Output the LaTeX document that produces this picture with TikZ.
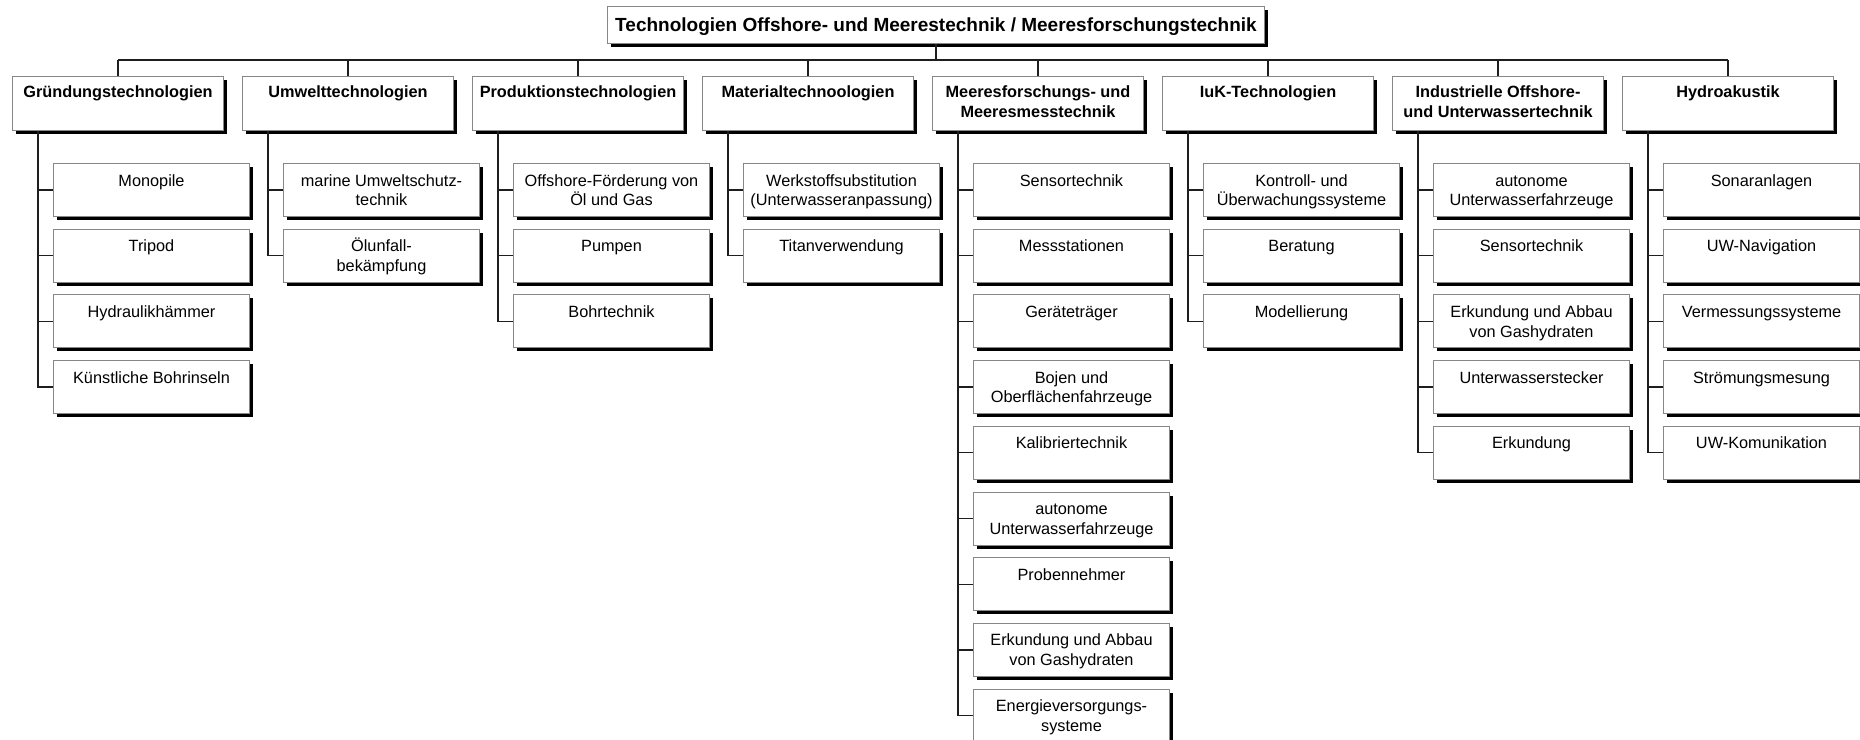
\documentclass[tikz,border=0pt]{standalone}
\usepackage{fontspec}
\setmainfont{Liberation Sans}
\usetikzlibrary{shadows}

\definecolor{boxgray}{RGB}{135,135,135}
\definecolor{linkgray}{RGB}{30,30,30}

% fixed-size cell: width, height, first baseline below top, text
\newcommand{\cell}[4]{\parbox[c][#2][t]{#1}{\centering\rule{0pt}{#3}#4\par}}
\newcommand{\headcell}[1]{\cell{211pt}{54pt}{20.7pt}{#1}}
\newcommand{\itemcell}[1]{\cell{196pt}{53pt}{22.5pt}{#1}}
% trunk from a category down to its items
\newcommand{\kids}[2]{\foreach \k in {#2}{\draw[link] ([xshift=26pt]#1.south west) |- (#1-\k.west);}}

\tikzset{
  box/.style={draw=boxgray, line width=1pt, fill=white, inner sep=0pt, anchor=north west,
    drop shadow={shadow xshift=3.5pt, shadow yshift=-3.5pt, opacity=1, fill=black}},
  ttl/.style={box, font={\bfseries\fontsize{19}{22}\selectfont}},
  head/.style={box, font={\bfseries\fontsize{16.3}{20.3}\selectfont}},
  leaf/.style={box, font={\fontsize{16.3}{19.8}\selectfont}},
  link/.style={draw=linkgray, line width=1.3pt},
}

\begin{document}
\begin{tikzpicture}[x=1pt,y=-1pt]
\useasboundingbox (0,0) rectangle (1860,739);
\fill[white] (0,0) rectangle (1860,739);
\clip (0,0) rectangle (1860,739);

% root
\node[ttl] (title) at (607,6) {\cell{657pt}{37pt}{24.7pt}{Technologien Offshore- und Meerestechnik / Meeresforschungstechnik}};
\coordinate (bus) at (936,60);

% categories
\node[head] (c0) at (12,76)   {\headcell{Gründungstechnologien}};
\node[head] (c1) at (242,76)  {\headcell{Umwelttechnologien}};
\node[head] (c2) at (472,76)  {\headcell{Produktionstechnologien}};
\node[head] (c3) at (702,76)  {\headcell{Materialtechnoologien}};
\node[head] (c4) at (932,76)  {\headcell{Meeresforschungs- und\\Meeresmesstechnik}};
\node[head] (c5) at (1162,76) {\headcell{IuK-Technologien}};
\node[head] (c6) at (1392,76) {\headcell{Industrielle Offshore-\\und Unterwassertechnik}};
\node[head] (c7) at (1622,76) {\headcell{Hydroakustik}};

% items
\node[leaf] (c0-1) at (53,163)   {\itemcell{Monopile}};
\node[leaf] (c0-2) at (53,228.7) {\itemcell{Tripod}};
\node[leaf] (c0-3) at (53,294.4) {\itemcell{Hydraulikhämmer}};
\node[leaf] (c0-4) at (53,360.1) {\itemcell{Künstliche Bohrinseln}};

\node[leaf] (c1-1) at (283,163)   {\itemcell{marine Umweltschutz-\\technik}};
\node[leaf] (c1-2) at (283,228.7) {\itemcell{Ölunfall-\\bekämpfung}};

\node[leaf] (c2-1) at (513,163)   {\itemcell{Offshore-Förderung von\\Öl und Gas}};
\node[leaf] (c2-2) at (513,228.7) {\itemcell{Pumpen}};
\node[leaf] (c2-3) at (513,294.4) {\itemcell{Bohrtechnik}};

\node[leaf] (c3-1) at (743,163)   {\itemcell{Werkstoffsubstitution\\(Unterwasseranpassung)}};
\node[leaf] (c3-2) at (743,228.7) {\itemcell{Titanverwendung}};

\node[leaf] (c4-1) at (973,163)   {\itemcell{Sensortechnik}};
\node[leaf] (c4-2) at (973,228.7) {\itemcell{Messstationen}};
\node[leaf] (c4-3) at (973,294.4) {\itemcell{Geräteträger}};
\node[leaf] (c4-4) at (973,360.1) {\itemcell{Bojen und\\Oberflächenfahrzeuge}};
\node[leaf] (c4-5) at (973,425.8) {\itemcell{Kalibriertechnik}};
\node[leaf] (c4-6) at (973,491.5) {\itemcell{autonome\\Unterwasserfahrzeuge}};
\node[leaf] (c4-7) at (973,557.2) {\itemcell{Probennehmer}};
\node[leaf] (c4-8) at (973,622.9) {\itemcell{Erkundung und Abbau\\von Gashydraten}};
\node[leaf] (c4-9) at (973,688.6) {\itemcell{Energieversorgungs-\\systeme}};

\node[leaf] (c5-1) at (1203,163)   {\itemcell{Kontroll- und\\Überwachungssysteme}};
\node[leaf] (c5-2) at (1203,228.7) {\itemcell{Beratung}};
\node[leaf] (c5-3) at (1203,294.4) {\itemcell{Modellierung}};

\node[leaf] (c6-1) at (1433,163)   {\itemcell{autonome\\Unterwasserfahrzeuge}};
\node[leaf] (c6-2) at (1433,228.7) {\itemcell{Sensortechnik}};
\node[leaf] (c6-3) at (1433,294.4) {\itemcell{Erkundung und Abbau\\von Gashydraten}};
\node[leaf] (c6-4) at (1433,360.1) {\itemcell{Unterwasserstecker}};
\node[leaf] (c6-5) at (1433,425.8) {\itemcell{Erkundung}};

\node[leaf] (c7-1) at (1663,163)   {\itemcell{Sonaranlagen}};
\node[leaf] (c7-2) at (1663,228.7) {\itemcell{UW-Navigation}};
\node[leaf] (c7-3) at (1663,294.4) {\itemcell{Vermessungssysteme}};
\node[leaf] (c7-4) at (1663,360.1) {\itemcell{Strömungsmesung}};
\node[leaf] (c7-5) at (1663,425.8) {\itemcell{UW-Komunikation}};

% connectors
\draw[link] (title.south) -- (title.south |- bus);
\draw[link] (c0.north |- bus) -- (c7.north |- bus);
\foreach \c in {c0,c1,c2,c3,c4,c5,c6,c7}{\draw[link] (\c.north |- bus) -- (\c.north);}
\kids{c0}{1,2,3,4}
\kids{c1}{1,2}
\kids{c2}{1,2,3}
\kids{c3}{1,2}
\kids{c4}{1,2,3,4,5,6,7,8,9}
\kids{c5}{1,2,3}
\kids{c6}{1,2,3,4,5}
\kids{c7}{1,2,3,4,5}
\end{tikzpicture}
\end{document}
